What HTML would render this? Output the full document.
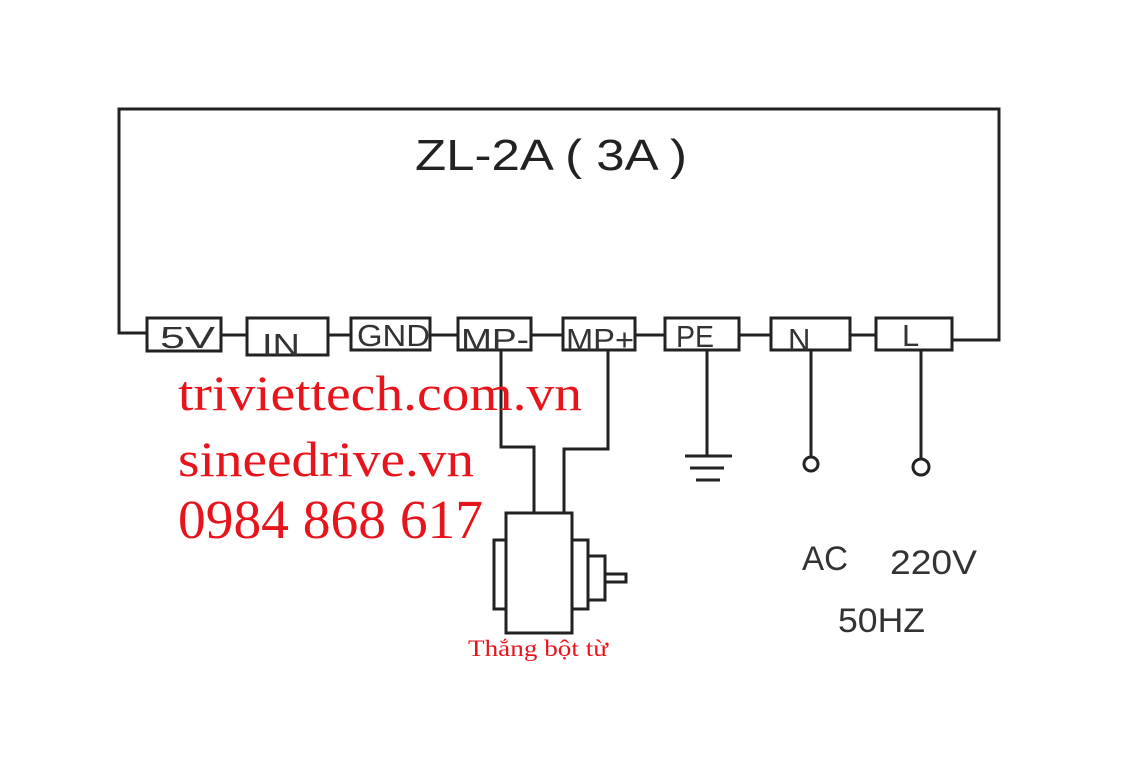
<!DOCTYPE html>
<html><head><meta charset="utf-8"><style>
html,body{margin:0;padding:0;background:#fff;}
svg{display:block}
</style></head><body>
<svg width="1142" height="768" viewBox="0 0 1142 768" xmlns="http://www.w3.org/2000/svg">
<rect width="1142" height="768" fill="#fff"/>
<g fill="none" stroke="#222" stroke-width="3">
<path d="M147 333 H119 V109 H999 V340 H952"/>
<line x1="221" y1="335" x2="247" y2="335"/>
<line x1="328" y1="335" x2="351" y2="335"/>
<line x1="430" y1="335" x2="458" y2="335"/>
<line x1="531" y1="335" x2="563" y2="335"/>
<line x1="635" y1="335" x2="665" y2="335"/>
<line x1="739" y1="335" x2="771" y2="335"/>
<line x1="850" y1="335" x2="876" y2="335"/>
<rect x="147" y="318" width="74" height="33"/>
<rect x="247" y="318" width="81" height="37"/>
<rect x="351" y="318" width="79" height="32"/>
<rect x="458" y="318" width="73" height="32"/>
<rect x="563" y="318" width="72" height="32"/>
<rect x="665" y="318" width="74" height="32"/>
<rect x="771" y="318" width="79" height="32"/>
<rect x="876" y="318" width="76" height="32"/>
<path d="M501 350 V447 H534 V513"/>
<path d="M608 350 V449 H564 V513"/>
<rect x="506" y="513" width="66" height="120"/>
<rect x="494" y="540" width="12" height="69"/>
<rect x="572" y="540" width="16" height="69"/>
<rect x="588" y="556" width="17" height="44"/>
<rect x="605" y="574" width="21" height="8"/>
<line x1="707" y1="350" x2="707" y2="456"/>
<line x1="685" y1="456" x2="732" y2="456"/>
<line x1="690" y1="468" x2="724" y2="468"/>
<line x1="696" y1="480" x2="720" y2="480"/>
<line x1="811" y1="350" x2="811" y2="457"/>
<circle cx="811" cy="464" r="7"/>
<line x1="921" y1="350" x2="921" y2="459"/>
<circle cx="921" cy="467" r="8"/>
</g>
<g font-family="Liberation Sans, sans-serif" fill="#333">
<text x="415" y="170" font-size="44" textLength="272" lengthAdjust="spacingAndGlyphs" fill="#222">ZL-2A ( 3A )</text>
<text x="160" y="348" font-size="31" textLength="55" lengthAdjust="spacingAndGlyphs">5V</text>
<text x="262" y="355" font-size="31" textLength="38" lengthAdjust="spacingAndGlyphs">IN</text>
<text x="357" y="346" font-size="31" textLength="73" lengthAdjust="spacingAndGlyphs">GND</text>
<text x="461" y="350" font-size="31" textLength="68" lengthAdjust="spacingAndGlyphs">MP-</text>
<text x="566" y="350" font-size="31" textLength="68" lengthAdjust="spacingAndGlyphs">MP+</text>
<text x="676" y="347" font-size="31" textLength="38" lengthAdjust="spacingAndGlyphs">PE</text>
<text x="788" y="350" font-size="31">N</text>
<text x="902" y="346" font-size="31">L</text>
<text x="802" y="570" font-size="34" textLength="46" lengthAdjust="spacingAndGlyphs">AC</text>
<text x="890" y="574" font-size="34" textLength="87" lengthAdjust="spacingAndGlyphs">220V</text>
<text x="838" y="632" font-size="34" textLength="87" lengthAdjust="spacingAndGlyphs">50HZ</text>
</g>
<g font-family="Liberation Serif, serif" fill="#e8141c">
<text x="178" y="410" font-size="50" textLength="404" lengthAdjust="spacingAndGlyphs">triviettech.com.vn</text>
<text x="178" y="476" font-size="50" textLength="296" lengthAdjust="spacingAndGlyphs">sineedrive.vn</text>
<text x="178" y="538" font-size="55" textLength="305" lengthAdjust="spacingAndGlyphs">0984 868 617</text>
<text x="468" y="656" font-size="23" textLength="140" lengthAdjust="spacingAndGlyphs">Thắng bột từ</text>
</g>
</svg>
</body></html>
